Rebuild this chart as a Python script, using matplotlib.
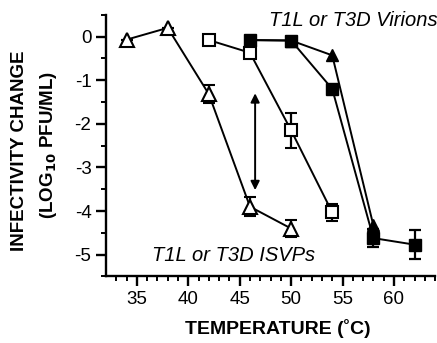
import matplotlib
matplotlib.use("Agg")
import matplotlib.pyplot as plt

plt.rcParams['font.family'] = ['Liberation Sans', 'DejaVu Sans']

# ISVPs (open triangles)
isvp_t = [34, 38, 42, 46, 50]
isvp_y = [-0.07, 0.2, -1.32, -3.9, -4.4]
isvp_e = [0, 0, 0.2, 0.22, 0.2]

# second ISVP-like series (open squares)
osq_t = [42, 46, 50, 54]
osq_y = [-0.08, -0.37, -2.15, -4.03]
osq_e = [0, 0, 0.4, 0.2]

# virions (filled squares)
fsq_t = [46, 50, 54, 58, 62]
fsq_y = [-0.08, -0.09, -1.2, -4.62, -4.77]
fsq_e = [0, 0, 0, 0.2, 0.33]

# virions (filled triangles)
ftri_t = [46, 50, 54, 58]
ftri_y = [-0.08, -0.09, -0.43, -4.33]

fig = plt.figure(figsize=(4.37, 3.43), dpi=100)
ax = fig.add_axes([0.2426, 0.1939, 0.753, 0.763])

lw = 1.4
ax.errorbar(ftri_t, ftri_y, fmt='-^', color='black', mfc='black', ms=8.5, lw=lw, zorder=3)
ax.errorbar(fsq_t, fsq_y, yerr=fsq_e, fmt='-s', color='black', mfc='black', ms=8.5,
            lw=lw, capsize=4.5, elinewidth=1.6, capthick=1.6, zorder=4)
ax.errorbar(osq_t, osq_y, yerr=osq_e, fmt='-s', color='black', mfc='white', ms=8,
            mew=1.5, lw=lw, capsize=4.5, elinewidth=1.6, capthick=1.6, zorder=3)
ax.errorbar(isvp_t, isvp_y, yerr=isvp_e, fmt='-^', color='black', mfc='white', ms=9.5,
            mew=1.5, lw=lw, capsize=4.5, elinewidth=1.6, capthick=1.6, zorder=3)

# double-headed arrow
ax.annotate('', xy=(46.5, -1.3), xytext=(46.5, -3.52),
            arrowprops=dict(arrowstyle='<|-|>', color='black', lw=1.4,
                            mutation_scale=13, shrinkA=0, shrinkB=0))

ax.text(64.2, 0.36, 'T1L or T3D Virions', style='italic', fontsize=14.5,
        ha='right', va='center')
ax.text(36.5, -5.02, 'T1L or T3D ISVPs', style='italic', fontsize=14.5,
        ha='left', va='center')

ax.set_xlim(32, 64)
ax.set_ylim(-5.5, 0.5)
ax.set_xticks([35, 40, 45, 50, 55, 60])
ax.set_xticks(range(33, 65), minor=True)
ax.set_yticks([0, -1, -2, -3, -4, -5])
ax.set_yticks([0.5, -0.5, -1.5, -2.5, -3.5, -4.5, -5.5], minor=True)
ax.set_yticklabels(['0', '-1', '-2', '-3', '-4', '-5'])

for s in ['top', 'right']:
    ax.spines[s].set_visible(False)
for s in ['left', 'bottom']:
    ax.spines[s].set_linewidth(1.7)
ax.tick_params(which='major', length=7, width=1.7, labelsize=13.5)
ax.tick_params(which='minor', length=3.8, width=1.4)

fig.text(0.635, 0.041, 'TEMPERATURE (˚C)', fontsize=14, fontweight='bold',
         ha='center', va='center')
fig.text(20 / 437, 1 - 151 / 343, 'INFECTIVITY CHANGE', fontsize=13.5,
         fontweight='bold', rotation=90, ha='center', va='center')
fig.text(49 / 437, 1 - 145 / 343, '(LOG$_{\\mathbf{10}}$ PFU/ML)', fontsize=13.5,
         fontweight='bold', rotation=90, ha='center', va='center')

fig.savefig('out.png', dpi=100)
